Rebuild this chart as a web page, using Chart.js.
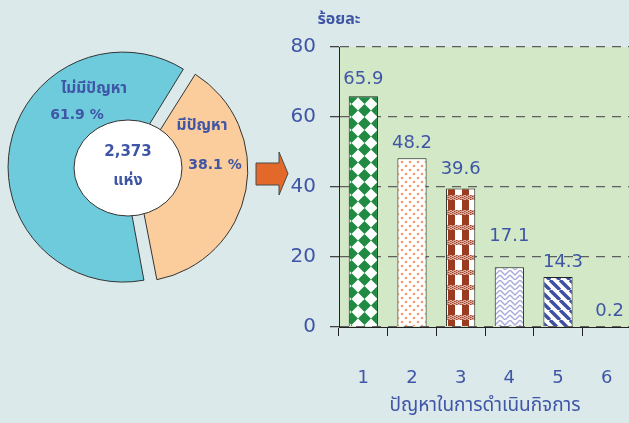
<!DOCTYPE html>
<html>
<head>
<meta charset="utf-8">
<script src="https://cdn.jsdelivr.net/npm/chart.js@4.4.1/dist/chart.umd.min.js"></script>
<style>
  html, body { margin: 0; padding: 0; background: #dbe9ea; width: 629px; height: 423px; overflow: hidden; }
  #pie { position: absolute; left: 0; top: 0; }
  #bars { position: absolute; left: 280px; top: 0; }
</style>
</head>
<body>
<canvas id="pie" width="300" height="336"></canvas>
<canvas id="bars" width="351" height="423"></canvas>
<script>
// pie: share of places with / without problems
const pieLabels = ['มีปัญหา', 'ไม่มีปัญหา'];
const pieValues = [38.1, 61.9];
const pieColors = ['#fbcd9c', '#6dcbdc'];
const totalText = ['2,373', 'แห่ง'];

// bars: problems in running the business (percent)
const barCategories = ['1', '2', '3', '4', '5', '6'];
const barValues = [65.9, 48.2, 39.6, 17.1, 14.3, 0.2];
const yTickValues = [0, 20, 40, 60, 80];
const yTitle = 'ร้อยละ';
const xTitle = 'ปัญหาในการดำเนินกิจการ';

const blue = '#3f55a6';
const thai = "'Noto Sans Thai', Tahoma, 'DejaVu Sans', sans-serif";
Chart.defaults.font.family = "'DejaVu Sans', sans-serif";

function makePattern(w, h, draw) {
    const c = document.createElement('canvas');
    c.width = w; c.height = h;
    const g = c.getContext('2d');
    g.fillStyle = '#fff';
    g.fillRect(0, 0, w, h);
    draw(g);
    return g.createPattern(c, 'repeat');
}

const patterns = [
    // green diamonds
    makePattern(13, 13, g => {
        g.fillStyle = '#218a43';
        g.beginPath();
        g.moveTo(6.5, 0); g.lineTo(13, 6.5); g.lineTo(6.5, 13); g.lineTo(0, 6.5);
        g.closePath(); g.fill();
    }),
    // orange dots
    makePattern(8, 8, g => {
        g.fillStyle = '#f59a72';
        [[2, 2], [6, 6]].forEach(p => { g.beginPath(); g.arc(p[0], p[1], 1.3, 0, Math.PI * 2); g.fill(); });
    }),
    // brown gingham
    makePattern(14, 15, g => {
        g.fillStyle = '#9b3b1f';
        g.fillRect(0, 0, 7, 15);
        g.fillStyle = '#dcb0a4';
        g.fillRect(0, 0, 14, 5);
        g.fillStyle = '#a24a30';
        for (let x = 0; x < 14; x += 2) for (let y = 0; y < 5; y++) if ((x / 2 + y) % 2 === 0) g.fillRect(x, y, 1.5, 1);
    }),
    // lilac weave
    makePattern(10, 10, g => {
        g.strokeStyle = '#aaa9dc';
        g.lineWidth = 1.4;
        g.beginPath();
        g.moveTo(0, 0); g.lineTo(5, 5); g.lineTo(10, 0);
        g.moveTo(0, 5); g.lineTo(5, 10); g.lineTo(10, 5);
        g.stroke();
    }),
    // blue diagonal stripes
    makePattern(10, 10, g => {
        g.strokeStyle = '#3d50a3';
        g.lineWidth = 3.4;
        g.beginPath();
        [-10, 0, 10].forEach(o => { g.moveTo(o, 0); g.lineTo(o + 10, 10); });
        g.stroke();
    }),
    '#ffffff'
];

// arrow + centre ellipse + slice texts
const pieDecor = {
    id: 'pieDecor',
    afterDraw(chart) {
        const ctx = chart.ctx;
        const arcs = chart.getDatasetMeta(0).data;
        const cx = arcs[0].x, cy = arcs[0].y;
        ctx.save();
        // white centre
        ctx.beginPath();
        ctx.ellipse(cx, cy, 54, 48, 0, 0, Math.PI * 2);
        ctx.fillStyle = '#fff';
        ctx.fill();
        ctx.strokeStyle = '#333';
        ctx.lineWidth = 1;
        ctx.stroke();

        ctx.fillStyle = blue;
        ctx.textAlign = 'center';
        ctx.textBaseline = 'middle';
        ctx.font = "bold 15px 'DejaVu Sans', sans-serif";
        ctx.fillText(totalText[0], cx, cy - 16);
        ctx.font = 'bold 16px ' + thai;
        ctx.fillText(totalText[1], cx, cy + 14);

        // slice labels: name on top, percent below
        const spots = [[[74, -41], [87, -3]], [[-34, -78], [-51, -53]]];
        pieLabels.forEach((name, i) => {
            ctx.font = 'bold 15.5px ' + thai;
            ctx.fillText(name, cx + spots[i][0][0], cy + spots[i][0][1]);
            ctx.font = "bold 14px 'DejaVu Sans', sans-serif";
            ctx.fillText(pieValues[i].toFixed(1) + ' %', cx + spots[i][1][0], cy + spots[i][1][1]);
        });

        // orange arrow pointing at the bars
        ctx.beginPath();
        ctx.moveTo(256, 163); ctx.lineTo(279, 163); ctx.lineTo(279, 152);
        ctx.lineTo(288, 173.5); ctx.lineTo(279, 195); ctx.lineTo(279, 185);
        ctx.lineTo(256, 185); ctx.closePath();
        ctx.fillStyle = '#e2692a';
        ctx.fill();
        ctx.strokeStyle = '#4a4a4a';
        ctx.stroke();
        ctx.restore();
    }
};

new Chart(document.getElementById('pie'), {
    type: 'pie',
    data: {
        labels: pieLabels,
        datasets: [{
            data: pieValues,
            backgroundColor: pieColors,
            borderColor: '#333',
            borderWidth: 1,
            offset: [30, 20]
        }]
    },
    options: {
        responsive: false,
        animation: false,
        events: [],
        rotation: 32,
        radius: 110,
        layout: { padding: { left: 0, right: 44, top: 0, bottom: 0 } },
        plugins: { legend: { display: false }, tooltip: { enabled: false } }
    },
    plugins: [pieDecor]
});

// green plot background, value labels, y title
const labelLift = [8, 6, 10, 22, 6, 6];
const labelShift = [0, 0, 0, 0, 5, 3];
const barDecor = {
    id: 'barDecor',
    beforeDraw(chart) {
        const a = chart.chartArea, ctx = chart.ctx;
        ctx.save();
        ctx.fillStyle = '#d2e8c6';
        ctx.fillRect(a.left, a.top, a.right - a.left, a.bottom - a.top);
        ctx.restore();
    },
    afterDraw(chart) {
        const ctx = chart.ctx, a = chart.chartArea;
        ctx.save();
        ctx.fillStyle = blue;
        ctx.textAlign = 'center';
        ctx.textBaseline = 'bottom';
        ctx.font = "18px 'DejaVu Sans', sans-serif";
        chart.getDatasetMeta(0).data.forEach((bar, i) => {
            ctx.fillText(barValues[i].toFixed(1), bar.x + labelShift[i], bar.y - labelLift[i]);
        });
        ctx.textBaseline = 'middle';
        ctx.font = 'bold 16px ' + thai;
        ctx.fillText(yTitle, a.left, a.top - 26);
        ctx.restore();
    }
};

new Chart(document.getElementById('bars'), {
    type: 'bar',
    data: {
        labels: barCategories,
        datasets: [{
            data: barValues,
            backgroundColor: patterns,
            borderColor: '#222',
            borderWidth: 1,
            barPercentage: 0.6,
            categoryPercentage: 1
        }]
    },
    options: {
        responsive: false,
        animation: false,
        events: [],
        layout: { padding: { top: 47, left: 0, right: 0, bottom: 0 } },
        plugins: { legend: { display: false }, tooltip: { enabled: false } },
        scales: {
            x: {
                grid: { offset: true, drawOnChartArea: false, tickLength: 9, color: '#222' },
                border: { color: '#222', width: 1 },
                ticks: { color: blue, font: { size: 18 }, padding: 32 },
                title: { display: true, text: xTitle, color: blue, font: { size: 19, family: thai }, padding: { top: 0, bottom: 4 } },
                afterFit(s) { s.height = 96; s.paddingLeft = 0; s.paddingRight = 0; }
            },
            y: {
                min: 0,
                max: 80,
                afterBuildTicks(s) { s.ticks = yTickValues.map(v => ({ value: v })); },
                grid: { color: '#5e5e5e', lineWidth: 1.3, tickLength: 9, tickColor: '#444' },
                border: { color: '#222', width: 1, dash: [9, 7] },
                ticks: { color: blue, font: { size: 20 }, padding: 14 },
                afterFit(s) { s.width = 59; }
            }
        }
    },
    plugins: [barDecor]
});
</script>
</body>
</html>
